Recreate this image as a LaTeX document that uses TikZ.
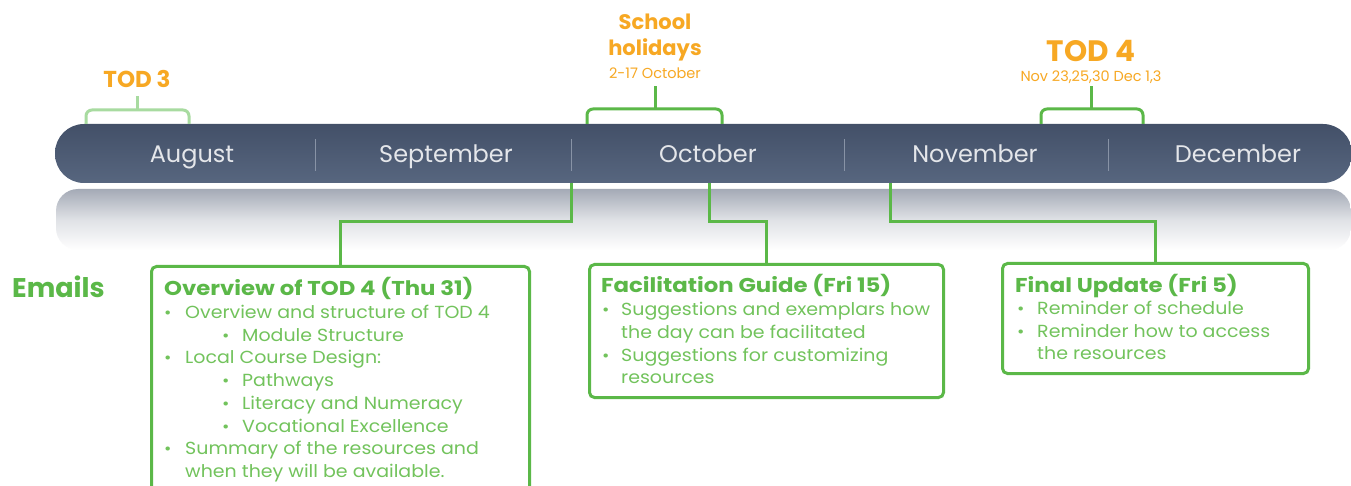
\documentclass[tikz,border=0pt]{standalone}
\usepackage{fontspec}
\setmainfont{Poppins}
\newfontfamily\bodyf[FakeStretch=1.085]{Poppins}
\newfontfamily\ttlf[FakeStretch=1.14]{Poppins}
\definecolor{barTop}{HTML}{435068}
\definecolor{barBot}{HTML}{57667F}
\definecolor{sepc}{HTML}{8893A6}
\definecolor{monthc}{HTML}{E4E6EA}
\definecolor{lineg}{HTML}{5BB848}
\definecolor{lightg}{HTML}{A8DBA0}
\definecolor{bodyg}{HTML}{72C35C}
\definecolor{orng}{HTML}{F7A823}
\definecolor{reflc}{HTML}{A4AAB6}
\tikzset{
  month/.style={text=monthc, anchor=base, font=\fontsize{24}{26}\selectfont, inner sep=0},
  sepline/.style={draw=sepc, line width=0.8pt},
  brack/.style={draw=lineg, line width=3pt, rounded corners=6pt},
  conn/.style={draw=lineg, line width=3pt},
  mailbox/.style={draw=lineg, line width=3pt, rounded corners=5pt, anchor=north west, inner sep=0},
  ttl/.style={anchor=base west, inner sep=0, text=lineg, font=\ttlf\bfseries\fontsize{20}{22}\selectfont},
  bodytxt/.style={anchor=base west, inner sep=0, text=bodyg, font=\bodyf\fontsize{17.5}{19}\selectfont},
  bul/.style={anchor=base west, inner sep=0, text=bodyg, font=\bodyf\fontsize{16.5}{18}\selectfont},
  orbig/.style={text=orng, inner sep=0, font=\bfseries\fontsize{23}{25}\selectfont},
  orsmall/.style={text=orng, inner sep=0, anchor=base, font=\fontsize{14.5}{16}\selectfont},
}
\begin{document}
\begin{tikzpicture}[x=1pt,y=-1pt]
\useasboundingbox[fill=white] (0,0) rectangle (1351,486);
% reflection
\shade[top color=reflc, bottom color=white, middle color=reflc!35!white, rounded corners=22pt] (56,189) rectangle (1351,250);
% bar
\shade[top color=barTop, bottom color=barBot, rounded corners=29pt] (55,124) rectangle (1352,183);
% separators
\draw[sepline] (315,139) -- (315,171);
\draw[sepline] (571,139) -- (571,171);
\draw[sepline] (844,139) -- (844,171);
\draw[sepline] (1108,139) -- (1108,171);
% months
\node[month] (aug) at (192,163) {August};
\node[month] (sep) at (446,163) {September};
\node[month] (oct) at (708,163) {October};
\node[month] (nov) at (975,163) {November};
\node[month] (dec) at (1238,163) {December};
% brackets
\draw[brack, draw=lightg] (86,124) -- (86,110) -- (189,110) -- (189,124);
\draw[draw=lightg, line width=3pt] (137,110) -- (137,96);
\draw[brack] (587,124) -- (587,109) -- (722,109) -- (722,124);
\draw[conn] (655,109) -- (655,86);
\draw[brack] (1041,124) -- (1041,109) -- (1143,109) -- (1143,124);
\draw[conn] (1091,109) -- (1091,86);
% orange labels
\node[orbig] (tod3) at (137,79) {TOD 3};
\node[orbig, align=center, font=\bfseries\fontsize{21}{26}\selectfont] (hol) at (655,38) {School\\holidays};
\node[orsmall] (holdate) at (655,79) {2-17 October};
\node[orbig, anchor=base, font=\bfseries\fontsize{29.5}{31}\selectfont] (tod4) at (1091,62) {TOD 4};
\node[orsmall] (tod4date) at (1091,81.5) {Nov 23,25,30 Dec 1,3};
% Emails
\node[anchor=base west, inner sep=0, text=lineg, font=\bfseries\fontsize{27}{29}\selectfont] (emails) at (12,297) {Emails};
% boxes
\node[mailbox, minimum width=378pt, minimum height=260pt] (b1) at (150,265) {};
\node[mailbox, minimum width=354pt, minimum height=133pt] (b2) at (588,263) {};
\node[mailbox, minimum width=306pt, minimum height=110pt] (b3) at (1001,262) {};
% connector origins on the bar
\coordinate (e1) at (571,183);
\coordinate (e2) at (709,183);
\coordinate (e3) at (890,183);
\draw[conn] (e1) -- ++(0,39) -| (b1.north);
\draw[conn] (e2) -- ++(0,39) -| (b2.north);
\draw[conn] (e3) -- ++(0,39) -| (b3.north);
% box 1 text
\node[ttl] (t1) at (164,295) {Overview of TOD 4 (Thu 31)};
\node[bul] (t1b1) at (164,318) {•}; \node[bodytxt] (t1l1) at (185,318) {Overview and structure of TOD 4};
\node[bul] (t1b2) at (222,341) {•}; \node[bodytxt] (t1l2) at (242,341) {Module Structure};
\node[bul] (t1b3) at (164,363.5) {•}; \node[bodytxt] (t1l3) at (185,363.5) {Local Course Design:};
\node[bul] (t1b4) at (222,386) {•}; \node[bodytxt] (t1l4) at (242,386) {Pathways};
\node[bul] (t1b5) at (222,409) {•}; \node[bodytxt] (t1l5) at (242,409) {Literacy and Numeracy};
\node[bul] (t1b6) at (222,432) {•}; \node[bodytxt] (t1l6) at (242,432) {Vocational Excellence};
\node[bul] (t1b7) at (164,454.5) {•}; \node[bodytxt] (t1l7) at (185,454.5) {Summary of the resources and};
\node[bodytxt] (t1l8) at (185,477) {when they will be available.};
% box 2 text
\node[ttl] (t2) at (601,292) {Facilitation Guide (Fri 15)};
\node[bul] (t2b1) at (602,315.5) {•}; \node[bodytxt] (t2l1) at (621,315.5) {Suggestions and exemplars how};
\node[bodytxt] (t2l2) at (621,338) {the day can be facilitated};
\node[bul] (t2b2) at (602,361) {•}; \node[bodytxt] (t2l3) at (621,361) {Suggestions for customizing};
\node[bodytxt] (t2l4) at (621,383) {resources};
% box 3 text
\node[ttl] (t3) at (1015,292) {Final Update (Fri 5)};
\node[bul] (t3b1) at (1017,314) {•}; \node[bodytxt] (t3l1) at (1037,314) {Reminder of schedule};
\node[bul] (t3b2) at (1017,337) {•}; \node[bodytxt] (t3l2) at (1037,337) {Reminder how to access};
\node[bodytxt] (t3l3) at (1037,359) {the resources};
\end{tikzpicture}
\end{document}
